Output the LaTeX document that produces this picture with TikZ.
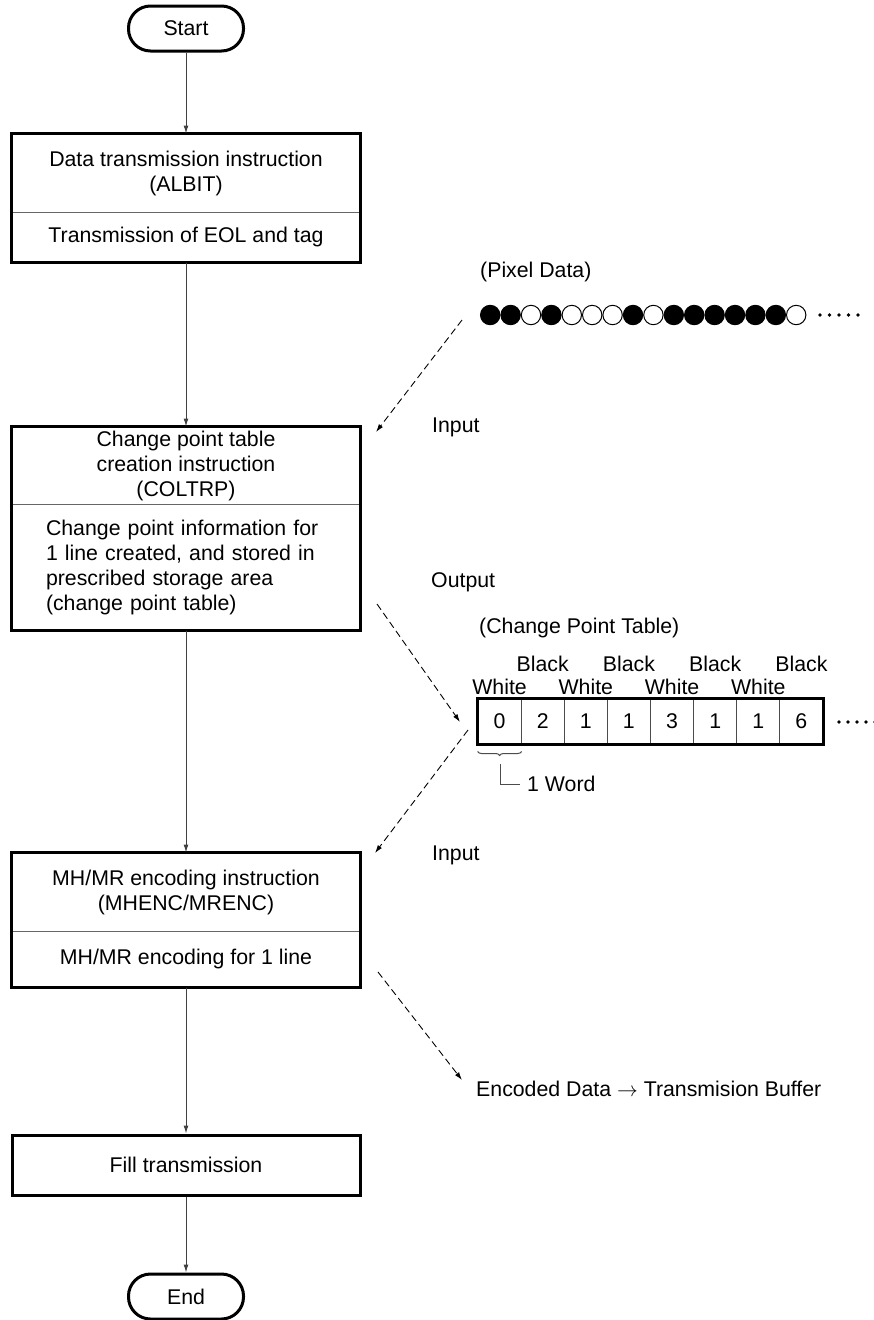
\documentclass[tikz,border=0pt]{standalone}
\usepackage{fontspec}
\setmainfont{Liberation Sans}
\usetikzlibrary{arrows.meta,positioning,decorations.pathreplacing}

\begin{document}
\begin{tikzpicture}[x=1pt, y=-1pt, font=\fontsize{21.3}{25}\selectfont,
    term/.style={draw, line width=3, rounded corners=22, minimum width=115, minimum height=45},
    part/.style={draw=black!60, line width=1, minimum width=348, align=center, inner sep=2},
    frame/.style={line width=3},
    flow/.style={->, >={Latex[length=8, width=5]}, line width=1, black!75},
    data/.style={->, >={Latex[length=8, width=5]}, line width=0.9, dash pattern=on 7pt off 4pt},
    lbl/.style={anchor=west, inner sep=0},
    pix/.style={circle, draw, line width=1, minimum size=19.4, inner sep=0},
    cell/.style={draw=black!70, line width=1, minimum width=43.1, minimum height=45, inner sep=0}]
    \useasboundingbox (0,0) rectangle (874,1320);

    % Flow chart
    \node[term] (start) at (186,28.5) {Start};

    \node[part, minimum height=78] (albithead) at (186,173) {Data transmission instruction\\(ALBIT)};
    \node[part, minimum height=50] (albitbody) at (186,237) {Transmission of EOL and tag};
    \draw[frame] (albithead.north west) rectangle (albitbody.south east);

    \node[part, minimum height=77] (coltrphead) at (186,465.5) {Change point table\\creation instruction\\(COLTRP)};
    \node[part, minimum height=126, text width=280, align=left] (coltrpbody) at (186,567) {Change point information for\\1 line created, and stored in\\prescribed storage area\\(change point table)};
    \draw[frame] (coltrphead.north west) rectangle (coltrpbody.south east);

    \node[part, minimum height=78] (mhenchead) at (186,892) {MH/MR encoding instruction\\(MHENC/MRENC)};
    \node[part, minimum height=56] (mhencbody) at (186,959) {MH/MR encoding for 1 line};
    \draw[frame] (mhenchead.north west) rectangle (mhencbody.south east);

    \node[part, frame, draw=black, minimum height=60] (fill) at (186,1165) {Fill transmission};

    \node[term] (end) at (186,1296.5) {End};

    % Connections along the flow
    \draw[flow] (start) -- (albithead);
    \draw[flow] (albitbody) -- (coltrphead);
    \draw[flow] (coltrpbody) -- (mhenchead);
    \draw[flow] (mhencbody) -- (fill);
    \draw[flow] (fill) -- (end);

    % Pixel data
    \node[lbl] (pixlbl) at (480,272) {(Pixel Data)};
    \node[pix, fill=black] (p1) at (490.2,315) {};
    \node[pix, fill=black] (p2) at (510.6,315) {};
    \node[pix] (p3) at (531.0,315) {};
    \node[pix, fill=black] (p4) at (551.4,315) {};
    \node[pix] (p5) at (571.8,315) {};
    \node[pix] (p6) at (592.2,315) {};
    \node[pix] (p7) at (612.6,315) {};
    \node[pix, fill=black] (p8) at (633.0,315) {};
    \node[pix] (p9) at (653.4,315) {};
    \node[pix, fill=black] (p10) at (673.8,315) {};
    \node[pix, fill=black] (p11) at (694.2,315) {};
    \node[pix, fill=black] (p12) at (714.6,315) {};
    \node[pix, fill=black] (p13) at (735.0,315) {};
    \node[pix, fill=black] (p14) at (755.4,315) {};
    \node[pix, fill=black] (p15) at (775.8,315) {};
    \node[pix] (p16) at (796.2,315) {};
    \foreach \k in {0,...,4}
        \fill (820+9.5*\k,315) circle (1.8);

    \node[lbl] (inlbl1) at (432,427) {Input};
    \node[lbl] (outlbl) at (431,582) {Output};

    % Change point table
    \node[lbl] (cptlbl) at (479,628) {(Change Point Table)};
    \node[cell] (cell1) at (499.6,721.5) {0};
    \node[cell] (cell2) at (542.7,721.5) {2};
    \node[cell] (cell3) at (585.8,721.5) {1};
    \node[cell] (cell4) at (628.9,721.5) {1};
    \node[cell] (cell5) at (672.1,721.5) {3};
    \node[cell] (cell6) at (715.2,721.5) {1};
    \node[cell] (cell7) at (758.3,721.5) {1};
    \node[cell] (cell8) at (801.4,721.5) {6};
    \draw[frame] (cell1.north west) rectangle (cell8.south east);
    \foreach \k in {0,...,4}
        \fill (839+9*\k,722) circle (1.8);

    \node (white1) at (499.6,687) {White};
    \node (black2) at (542.7,664) {Black};
    \node (white3) at (585.8,687) {White};
    \node (black4) at (628.9,664) {Black};
    \node (white5) at (672.1,687) {White};
    \node (black6) at (715.2,664) {Black};
    \node (white7) at (758.3,687) {White};
    \node (black8) at (801.4,664) {Black};

    % One word
    \draw[black!70, line width=1, decorate, decoration={brace, mirror, amplitude=4}]
        ([yshift=-7]cell1.south west) -- ([yshift=-7]cell1.south east);
    \node[lbl] (word) at (527,784) {1 Word};
    \coordinate (bracetip) at (500,764);
    \draw[black!70, line width=1] (bracetip) |- ([xshift=-7]word.west);

    \node[lbl] (inlbl2) at (432,855) {Input};
    \node[lbl] (enclbl) at (476,1089) {Encoded Data $\rightarrow$ Transmision Buffer};

    % Data paths
    \coordinate (pixout) at (462,320);
    \coordinate (coltrpin) at (376,432);
    \coordinate (coltrpout) at (377,604);
    \coordinate (cptin) at (460,722);
    \coordinate (cptout) at (468,730);
    \coordinate (mhencin) at (375,853);
    \coordinate (mhencout) at (378,972);
    \coordinate (bufin) at (462,1080);
    \draw[data] (pixout) -- (coltrpin);
    \draw[data] (coltrpout) -- (cptin);
    \draw[data] (cptout) -- (mhencin);
    \draw[data] (mhencout) -- (bufin);
\end{tikzpicture}
\end{document}
